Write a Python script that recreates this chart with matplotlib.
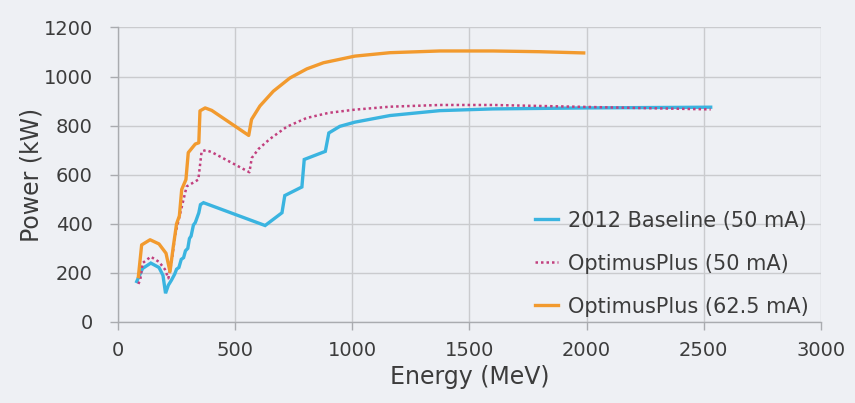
import numpy as np
import matplotlib.pyplot as plt

# values
base_e = [80, 105, 140, 175, 192, 203, 215, 228, 242, 250, 260, 270, 280, 288,
          298, 305, 312, 322, 330, 345, 352, 365, 628, 700, 712, 785, 795,
          885, 900, 947, 1011, 1161, 1374, 1600, 2000, 2530]
base_p = [165, 218, 240, 222, 190, 117, 150, 170, 195, 215, 222, 255, 262, 290,
          300, 340, 350, 395, 405, 445, 478, 486, 393, 445, 515, 550, 662,
          695, 770, 797, 814, 841, 861, 868, 872, 875]

opt50_e = [87, 95, 105, 140, 175, 200, 215, 228, 245, 270, 293, 343, 357, 375,
           400, 561, 571, 600, 649, 720, 805, 900, 1011, 1161, 1374, 1600, 2000, 2530]
opt50_p = [155, 172, 240, 266, 245, 215, 178, 240, 360, 460, 552, 580, 695, 700,
           692, 610, 668, 705, 746, 795, 831, 852, 865, 877, 884, 884, 876, 866]

opt62_e = [87, 101, 137, 175, 205, 222, 235, 250, 262, 272, 290, 300, 330, 345,
           350, 372, 400, 558, 570, 606, 663, 734, 806, 877, 1011, 1161, 1374,
           1600, 1800, 1988]
opt62_p = [185, 314, 335, 318, 280, 205, 300, 400, 432, 540, 580, 690, 725, 730,
           860, 872, 862, 760, 825, 880, 940, 994, 1031, 1056, 1083, 1097, 1104,
           1104, 1101, 1096]

series_labels = ['2012 Baseline (50 mA)', 'OptimusPlus (50 mA)', 'OptimusPlus (62.5 mA)']
x_ticks = [0, 500, 1000, 1500, 2000, 2500, 3000]
y_ticks = [0, 200, 400, 600, 800, 1000, 1200]

bg = '#eef0f4'
txt = '#3c3c3c'
plt.rcParams['font.family'] = ['DejaVu Sans']

fig = plt.figure(figsize=(8.55, 4.03), dpi=100, facecolor=bg)
ax = fig.add_axes([0.138, 0.201, 0.822, 0.731], facecolor=bg)

ax.plot(base_e, base_p, color='#3ab4e0', lw=2.4, label=series_labels[0],
        solid_joinstyle='miter')
ax.plot(opt50_e, opt50_p, color='#c2407e', lw=1.8, ls=(0, (1, 1.2)),
        label=series_labels[1])
ax.plot(opt62_e, opt62_p, color='#f29a2e', lw=2.4, label=series_labels[2])

ax.set_xlim(0, 3000)
ax.set_ylim(0, 1200)
ax.set_xticks(x_ticks)
ax.set_yticks(y_ticks)
ax.grid(True, color='#cacbce', lw=1.0)
ax.set_axisbelow(True)
for s in ['top', 'right']:
    ax.spines[s].set_visible(False)
for s in ['left', 'bottom']:
    ax.spines[s].set_color('#a9abaf')
    ax.spines[s].set_linewidth(1.0)
ax.tick_params(colors='#a9abaf', labelcolor=txt, labelsize=14, length=6,
               width=1.0)
ax.tick_params(axis='x', pad=8)
ax.tick_params(axis='y', pad=12)
ax.set_xlabel('Energy (MeV)', fontsize=17, color=txt, labelpad=3)
ax.set_ylabel('Power (kW)', fontsize=17, color=txt, labelpad=0)

leg = ax.legend(loc='lower right', bbox_to_anchor=(1.01, -0.045), frameon=False,
                fontsize=15, labelspacing=1.1, handlelength=1.1,
                handletextpad=0.5, labelcolor=txt)

fig.savefig('out.png', dpi=100, facecolor=bg)
